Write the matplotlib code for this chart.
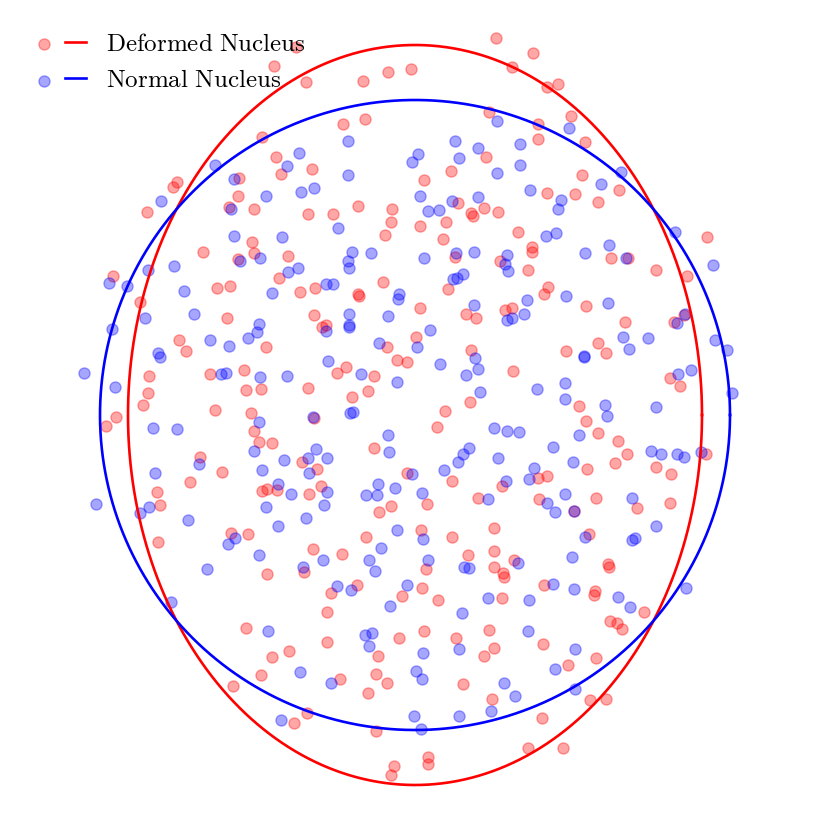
import numpy as np
import matplotlib
matplotlib.use("Agg")
import matplotlib.pyplot as plt
from matplotlib.legend_handler import HandlerTuple

plt.rcParams['mathtext.fontset'] = 'cm'

# nucleus outlines (semi-axes)
normal_radius = 3.15
deformed_a = 2.87
deformed_b = 3.70

# point positions
deformed_x = [
    -1.41, -1.19, -1.53, -1.39, -1.34, -1.76, -2.38, -2.42, -2.68, -1.77, -1.86, -1.61,
    0.81, 0.97, -1.09, -0.52, -0.27, -0.04, 0.74, -0.72, -0.50, 0.71, -1.03, 0.36,
    0.09, 0.43, 0.69, 0.56, 0.58, 0.83, -1.07, -0.82, -0.57, -0.23, -0.24, -0.30,
    0.05, 0.31, 1.18, 1.32, 1.43, 1.56, 1.23, 1.23, 1.70, 1.67, 2.04, 1.32,
    1.60, 1.83, -1.63, -2.12, -1.77, -1.61, -1.27, -1.36, -3.02, -1.98, -1.85, -1.15,
    -2.75, -1.88, -1.49, -2.36, -2.29, -2.66, -2.05, -1.71, -1.69, -1.54, -2.67, -2.72,
    -2.00, -1.64, 0.28, 1.03, 0.40, 0.85, -1.00, -0.32, -0.57, -0.56, 0.33, 0.05,
    0.51, 0.61, 0.90, 0.97, -1.01, -0.93, -0.89, 0.01, -0.28, 0.56, 0.98, -0.69,
    -0.78, -0.18, -0.08, -0.41, -1.07, -0.47, -0.63, 0.55, 0.30, 1.17, 1.17, 1.13,
    1.96, 2.13, 2.41, 2.92, 2.72, 1.33, 1.29, 1.71, 2.10, 2.59, 2.69, 1.83,
    1.91, 1.51, 1.64, 2.55, 2.65, -2.99, -3.09, -1.61, -1.56, -1.43, -1.13, -2.15,
    -1.93, -2.25, -2.58, -2.55, -1.53, -1.48, -1.38, -1.84, -1.67, -2.57, -1.48, -1.11,
    -1.01, 0.22, -0.41, -0.98, -0.94, -1.06, -0.08, 0.37, 0.87, 0.63, 0.12, -0.24,
    -0.36, 0.06, -0.49, 0.37, 0.79, -1.02, -0.73, 0.53, 0.79, 0.11, 0.79, 0.99,
    0.88, 0.89, -0.84, -0.58, 0.07, -0.13, 0.23, 0.87, 1.71, 1.83, 2.03, 2.12,
    2.00, 1.72, 2.91, 2.41, 2.56, 1.23, 1.32, 1.24, 1.59, 1.81, 2.22, 2.55,
    1.74, 1.93, 1.94, 1.29, 1.80, 1.79, -1.69, -1.43, -1.26, -1.54, -1.82, -1.21,
    -0.88, -0.88, -0.16, 0.09, 0.41, 0.74, 0.79, 0.69, -0.37, -0.75, -0.39, -0.28,
    -0.47, 0.48, 0.77, -1.08, -0.39, 0.13, 0.13, -0.21, -0.24, 2.29, 1.95, 2.02,
    2.07, 1.28, 1.81, 1.53, 1.75, 1.91, 1.27, 1.13, 1.48,
]
deformed_y = [
    3.49, 3.68, 2.78, 2.58, 2.41, 2.37, 2.33, 2.28, 2.03, 2.19, 2.08, 2.06,
    3.77, 3.48, 3.33, 3.34, 3.43, 3.46, 3.03, 2.91, 2.96, 2.58, 2.46, 2.44,
    2.35, 2.12, 2.07, 2.02, 1.99, 2.03, 2.01, 2.01, 2.09, 2.06, 1.93, 1.80,
    1.89, 1.93, 3.62, 3.28, 3.31, 2.99, 2.91, 2.76, 2.73, 2.40, 2.25, 2.22,
    2.21, 2.13, 1.73, 1.63, 1.56, 1.62, 1.59, 1.37, 1.39, 1.27, 1.29, 1.23,
    1.13, 0.97, 0.68, 0.75, 0.64, 0.39, 0.41, 0.45, 0.25, 0.26, 0.22, 0.10,
    0.05, 0.02, 1.76, 1.83, 1.58, 1.54, 1.27, 1.33, 1.21, 1.19, 1.26, 1.07,
    1.01, 0.97, 1.05, 1.07, 1.00, 0.88, 0.90, 0.78, 0.68, 0.65, 0.44, 0.48,
    0.42, 0.55, 0.53, 0.39, 0.27, 0.24, 0.18, 0.13, 0.04, 1.68, 1.63, 1.45,
    1.57, 1.57, 1.45, 1.78, 1.39, 1.28, 1.21, 1.09, 0.93, 0.93, 1.00, 0.72,
    0.62, 0.64, 0.09, 0.37, 0.29, -0.02, -0.11, -0.16, -0.27, -0.28, -0.47, -0.42,
    -0.57, -0.67, -0.77, -0.90, -0.76, -0.74, -0.75, -1.18, -1.19, -1.27, -1.59, -1.57,
    -0.03, -0.12, -0.33, -0.54, -0.71, -0.79, -0.58, -0.66, -0.71, -0.83, -0.89, -0.91,
    -0.97, -1.15, -1.22, -1.22, -1.13, -1.34, -1.39, -1.40, -1.36, -1.54, -1.52, -1.45,
    -1.58, -1.62, -1.78, -1.70, -1.73, -1.81, -1.85, -1.83, -0.06, -0.18, -0.26, -0.39,
    -0.48, -0.54, -0.39, -0.52, -0.59, -0.63, -0.61, -0.84, -0.96, -0.83, -0.93, -0.88,
    -1.19, -1.49, -1.52, -1.70, -1.76, -1.80, -2.13, -2.42, -2.36, -2.60, -2.71, -3.08,
    -1.97, -2.27, -2.23, -2.16, -2.23, -2.15, -2.33, -2.41, -2.41, -2.64, -2.59, -2.68,
    -2.78, -2.69, -2.84, -2.98, -3.16, -3.42, -3.49, -3.51, -3.60, -1.97, -2.06, -2.08,
    -2.14, -2.29, -2.43, -2.50, -2.85, -2.84, -3.03, -3.33, -3.33,
]

normal_x = [
    -2.00, -1.28, -1.16, -1.81, -2.54, -1.49, -1.14, -1.01, -1.84, 0.82, -0.67, 0.40,
    0.03, -0.03, 0.63, 0.44, 1.05, 1.05, 0.82, -0.67, 0.05, 0.37, 0.63, 0.13,
    0.24, 1.54, 2.06, 1.86, 1.15, 1.46, 1.43, -1.81, -1.33, -1.75, -1.55, -1.27,
    -1.17, -3.06, -2.88, -2.67, -2.41, -2.31, -1.43, -2.70, -2.21, -3.03, -1.56, -1.58,
    -1.67, -2.05, -1.86, -2.57, -2.55, -3.31, -3.00, -1.94, -1.89, -1.55, -1.28, -0.77,
    -0.63, -0.67, -0.66, -0.44, 0.09, 0.41, 0.59, 0.92, 0.90, 0.93, -0.89, -0.82,
    -0.16, -0.17, 0.38, 0.42, 0.48, 0.59, 0.97, 0.92, -0.66, -0.66, -0.66, -0.27,
    -0.89, 0.15, 0.02, -0.36, 0.60, 0.63, 0.51, -0.87, 0.25, -0.54, -0.18, 0.65,
    -0.65, -0.62, 1.31, 1.41, 1.70, 1.94, 2.11, 2.60, 2.98, 1.12, 1.51, 1.93,
    1.09, 2.62, 2.70, 2.08, 2.33, 2.14, 1.69, 1.69, 3.00, 3.12, 1.50, 1.22,
    1.50, 1.90, 2.41, 2.63, 2.76, 3.17, -1.56, -2.62, -2.38, -1.61, -1.31, -2.16,
    -2.60, -1.53, -2.66, -2.75, -3.19, -1.37, -1.24, -1.49, -2.27, -1.37, -1.80, -1.87,
    -1.56, -2.08, -1.12, -2.44, -1.02, 0.79, 0.92, 1.04, -0.27, -0.26, -0.99, -1.07,
    -0.88, -1.06, -0.88, -0.91, -1.09, -0.03, 0.29, 0.54, 0.48, 0.43, 0.83, 0.91,
    0.73, -0.37, -0.49, -0.38, -0.20, 0.07, -0.18, 0.08, -0.34, -0.92, -0.46, -0.40,
    0.13, 0.49, 0.54, 1.03, -0.78, -0.64, -0.08, 0.73, 1.92, 1.64, 1.38, 1.58,
    2.36, 2.46, 2.62, 2.69, 2.86, 1.19, 1.14, 1.50, 1.32, 1.40, 1.59, 2.17,
    2.41, 1.70, 2.17, 2.20, 1.57, 1.38, 1.59, 2.03, 2.71, 1.14, -1.47, -1.15,
    -1.34, -0.25, 0.47, -0.50, -0.43, -0.46, 0.44, 0.08, -0.84, 0.01, 0.07, 0.89,
    1.00, 0.76, -0.01, 0.44, 0.06, 2.15, 1.13, 1.60, 1.40, 1.60,
]
normal_y = [
    2.50, 2.49, 2.62, 2.36, 2.14, 2.19, 2.23, 2.27, 2.06, 2.94, 2.74, 2.74,
    2.61, 2.53, 2.67, 2.57, 2.71, 2.50, 2.42, 2.40, 2.19, 2.14, 2.18, 2.04,
    2.05, 2.87, 2.43, 2.31, 2.25, 2.15, 2.06, 1.79, 1.78, 1.54, 1.57, 1.43,
    1.47, 1.32, 1.29, 1.45, 1.49, 1.24, 1.22, 0.97, 1.01, 0.86, 0.91, 0.83,
    0.77, 0.75, 0.69, 0.62, 0.58, 0.42, 0.28, 0.41, 0.42, 0.38, 0.39, 1.87,
    1.63, 1.54, 1.47, 1.62, 1.57, 1.62, 1.63, 1.60, 1.51, 1.44, 1.31, 1.31,
    1.21, 1.16, 1.36, 1.37, 1.41, 1.10, 0.97, 0.95, 1.01, 0.90, 0.88, 0.99,
    0.84, 0.85, 0.68, 0.72, 0.57, 0.46, 0.40, 0.54, 0.51, 0.41, 0.33, 0.23,
    0.02, 0.03, 1.79, 1.82, 1.62, 1.70, 1.57, 1.83, 1.50, 1.15, 1.19, 1.12,
    1.01, 0.92, 1.01, 0.78, 0.77, 0.66, 0.59, 0.58, 0.75, 0.65, 0.32, 0.26,
    0.16, 0.10, 0.08, 0.41, 0.45, 0.22, -0.07, -0.13, -0.14, -0.36, -0.45, -0.49,
    -0.58, -0.55, -0.92, -0.98, -0.89, -0.69, -0.79, -0.92, -1.05, -1.11, -1.23, -1.29,
    -1.40, -1.54, -1.52, -1.87, -0.02, -0.13, -0.16, -0.17, -0.20, -0.37, -0.34, -0.43,
    -0.43, -0.58, -0.77, -0.90, -1.03, -0.59, -0.55, -0.33, -0.39, -0.47, -0.43, -0.66,
    -0.84, -0.69, -0.80, -0.80, -0.73, -0.78, -1.15, -1.24, -1.33, -1.45, -1.45, -1.56,
    -1.45, -1.52, -1.53, -1.48, -1.71, -1.75, -1.70, -1.83, -0.01, -0.20, -0.32, -0.47,
    -0.36, -0.39, -0.39, -0.42, -0.37, -0.53, -0.64, -0.79, -0.88, -0.97, -0.96, -0.83,
    -1.11, -1.22, -1.25, -1.23, -1.42, -1.69, -1.74, -1.82, -1.73, -1.85, -2.16, -2.57,
    -3.05, -1.91, -1.98, -2.20, -2.18, -2.31, -2.34, -2.38, -2.68, -2.56, -2.64, -2.68,
    -2.81, -2.96, -3.01, -3.01, -3.14, -1.92, -2.16, -2.34, -2.54, -2.74,
]

fig = plt.figure(figsize=(8.3, 8.3), dpi=100)
ax = fig.add_axes([0, 0, 1, 1])

sc_def = ax.scatter(deformed_x, deformed_y, s=64, color='red', alpha=0.35)
sc_norm = ax.scatter(normal_x, normal_y, s=64, color='blue', alpha=0.35)

t = np.linspace(0, 2 * np.pi, 500)
line_def, = ax.plot(deformed_a * np.cos(t), deformed_b * np.sin(t), color='red', lw=1.9, zorder=3)
line_norm, = ax.plot(normal_radius * np.cos(t), normal_radius * np.sin(t), color='blue', lw=1.9, zorder=3)

ax.set_xlim(-4.15, 4.15)
ax.set_ylim(-4.15, 4.15)
ax.set_aspect('equal')
ax.axis('off')

ax.legend([(sc_def, line_def), (sc_norm, line_norm)],
          [r'$\mathrm{Deformed\ Nucleus}$', r'$\mathrm{Normal\ Nucleus}$'],
          handler_map={tuple: HandlerTuple(ndivide=None, pad=0.4)},
          loc='upper left', bbox_to_anchor=(0.019, 0.983), frameon=False,
          fontsize=18, handlelength=2.1, handletextpad=0.8, labelspacing=0.5,
          borderaxespad=0.3)

fig.savefig('out.png', dpi=100)
